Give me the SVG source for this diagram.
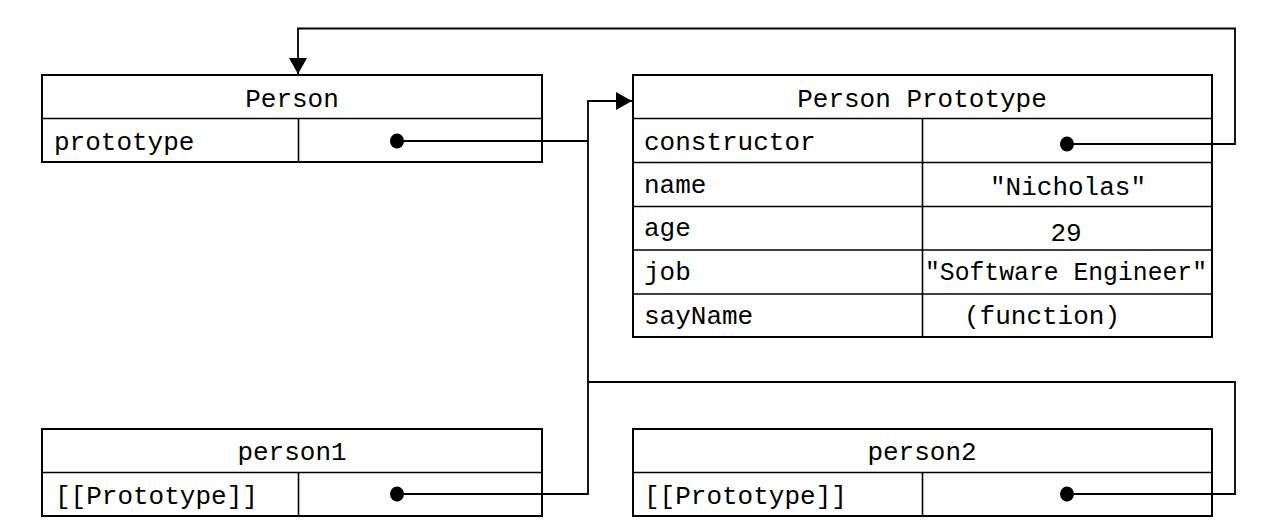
<svg xmlns="http://www.w3.org/2000/svg" width="1264" height="532" viewBox="0 0 1264 532">
<defs>
<style>
.box{fill:#fff;stroke:#000;stroke-width:2}
.ln{stroke:#000;stroke-width:1.6;fill:none}
.c{stroke:#000;stroke-width:1.8;fill:none}
text{font-family:"Liberation Mono","Courier New",monospace;font-size:26px;fill:#000}
.m{text-anchor:middle}
</style>
<marker id="ah" markerUnits="userSpaceOnUse" markerWidth="18" markerHeight="18" refX="16" refY="9" orient="auto">
<path d="M0,0 L16,9 L0,18 Z" fill="#000"/>
</marker>
</defs>
<g id="person">
<rect class="box" x="42" y="75" width="500" height="87"/>
<line class="ln" x1="42" y1="118.5" x2="542" y2="118.5"/>
<line class="ln" x1="298.5" y1="118.5" x2="298.5" y2="162"/>
<text class="m" x="292" y="107">Person</text>
<text x="54" y="150">prototype</text>
<ellipse cx="397" cy="141" rx="7" ry="7.5"/>
</g>
<g id="person-prototype">
<rect class="box" x="633" y="75" width="579" height="262"/>
<line class="ln" x1="633" y1="118.5" x2="1212" y2="118.5"/>
<line class="ln" x1="633" y1="162.5" x2="1212" y2="162.5"/>
<line class="ln" x1="633" y1="206.5" x2="1212" y2="206.5"/>
<line class="ln" x1="633" y1="250" x2="1212" y2="250"/>
<line class="ln" x1="633" y1="294" x2="1212" y2="294"/>
<line class="ln" x1="922.5" y1="118.5" x2="922.5" y2="337"/>
<text class="m" x="922" y="107">Person Prototype</text>
<text x="644" y="150">constructor</text>
<ellipse cx="1067" cy="144" rx="7" ry="7.5"/>
<text x="644" y="193">name</text>
<text class="m" x="1068" y="195">"Nicholas"</text>
<text x="644" y="236">age</text>
<text class="m" x="1066" y="241">29</text>
<text x="644" y="280">job</text>
<text class="m" x="1066" y="280" textLength="282" lengthAdjust="spacingAndGlyphs">"Software Engineer"</text>
<text x="644" y="324">sayName</text>
<text class="m" x="1042" y="324">(function)</text>
</g>
<g id="person1">
<rect class="box" x="42" y="429" width="500" height="87"/>
<line class="ln" x1="42" y1="472.5" x2="542" y2="472.5"/>
<line class="ln" x1="298.5" y1="472.5" x2="298.5" y2="516"/>
<text class="m" x="292" y="460">person1</text>
<text x="55" y="504">[[Prototype]]</text>
<ellipse cx="397" cy="494" rx="7" ry="7.5"/>
</g>
<g id="person2">
<rect class="box" x="633" y="429" width="579" height="87"/>
<line class="ln" x1="633" y1="472.5" x2="1212" y2="472.5"/>
<line class="ln" x1="922.5" y1="472.5" x2="922.5" y2="516"/>
<text class="m" x="922" y="460">person2</text>
<text x="644" y="504">[[Prototype]]</text>
<ellipse cx="1067" cy="494" rx="7" ry="7.5"/>
</g>
<g id="connectors">
<polyline class="c" points="397,141 588,141"/>
<polyline class="c" points="397,494 588,494 588,101 632,101" marker-end="url(#ah)"/>
<polyline class="c" points="1067,494 1235,494 1235,382 588,382"/>
<polyline class="c" points="1067,144 1235,144 1235,28.5 298,28.5 298,74" marker-end="url(#ah)"/>
</g>
</svg>
